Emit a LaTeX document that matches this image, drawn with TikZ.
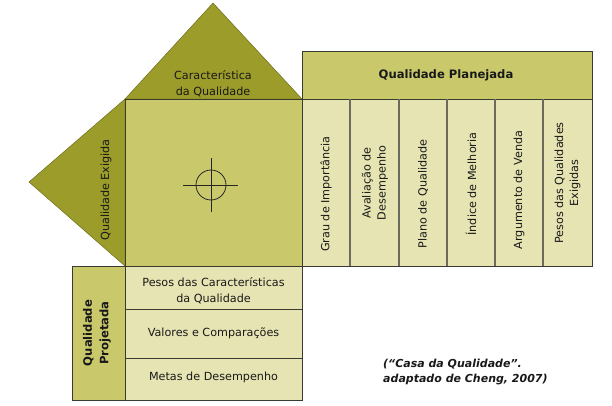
\documentclass[tikz,border=0pt]{standalone}
\usepackage{fontspec}
\setmainfont{DejaVu Sans}
\definecolor{olivedark}{HTML}{9C9C2A}
\definecolor{olivemid}{HTML}{C9C96C}
\definecolor{olivelight}{HTML}{E6E4B2}
\definecolor{edgecol}{HTML}{3A3A30}
\definecolor{divcol}{HTML}{6A6A60}
\begin{document}
\begin{tikzpicture}[x=1pt,y=-1pt,
  txt/.style={font=\fontsize{11.2}{15}\selectfont, text=black!90, align=center, inner sep=0pt},
  bold/.style={txt, font=\fontsize{11.6}{16.5}\selectfont\bfseries},
  tri/.style={fill=olivedark, draw=olivedark!70!black, line width=0.5pt},
  midbox/.style={fill=olivemid, draw=edgecol, line width=0.8pt},
  lightbox/.style={fill=olivelight, draw=edgecol, line width=0.8pt},
  divline/.style={draw=divcol, line width=1.2pt}]
\useasboundingbox (0,0) rectangle (612,405);
\fill[white] (0,0) rectangle (612,405);
% triangles
\path[tri] (125,99) -- (213,3) -- (302,99) -- cycle;
\path[tri] (125,99) -- (29,182) -- (125,266) -- cycle;
% central square
\path[midbox] (125,99) rectangle (302,266);
% header
\path[midbox] (302,51) rectangle (592,99);
% columns
\path[lightbox] (302,99) rectangle (592,266);
\foreach \x in {350,399,447,495,543} \draw[divline] (\x,99) -- (\x,266);
% bottom
\path[midbox] (72,266) rectangle (125,400);
\path[lightbox] (125,266) rectangle (302,400);
\draw[edgecol, line width=0.8pt] (125,309) -- (302,309) (125,358) -- (302,358);
% crosshair
\draw[black!85, line width=0.8pt] (211,185) circle (15);
\draw[black!85, line width=0.8pt] (183,185) -- (238,185) (211,158) -- (211,212);
% texts
\node[txt, font=\fontsize{11.2}{16}\selectfont] (carac) at (213,84) {Característica\\da Qualidade};
\node[txt, rotate=90] (exig) at (106,190) {Qualidade Exigida};
\node[bold] (plan) at (446,75) {Qualidade Planejada};
\node[txt, rotate=90] (c1) at (326,194) {Grau de Importância};
\node[txt, rotate=90] (c2) at (375,183) {Avaliação de\\Desempenho};
\node[txt, rotate=90] (c3) at (423,194) {Plano de Qualidade};
\node[txt, rotate=90] (c4) at (471,184) {Índice de Melhoria};
\node[txt, rotate=90] (c5) at (519,190) {Argumento de Venda};
\node[txt, rotate=90] (c6) at (567.5,183) {Pesos das Qualidades\\Exigidas};
\node[bold, rotate=90] (proj) at (97,333) {Qualidade\\Projetada};
\node[txt, font=\fontsize{11.2}{16}\selectfont] (r1) at (213.5,291) {Pesos das Características\\da Qualidade};
\node[txt] (r2) at (213.5,333) {Valores e Comparações};
\node[txt] (r3) at (213.5,377) {Metas de Desempenho};
\node[txt, font=\fontsize{11}{15}\selectfont\bfseries\itshape, align=left, anchor=west] (cite) at (383,372) {(“Casa da Qualidade”.\\adaptado de Cheng, 2007)};
\end{tikzpicture}
\end{document}
